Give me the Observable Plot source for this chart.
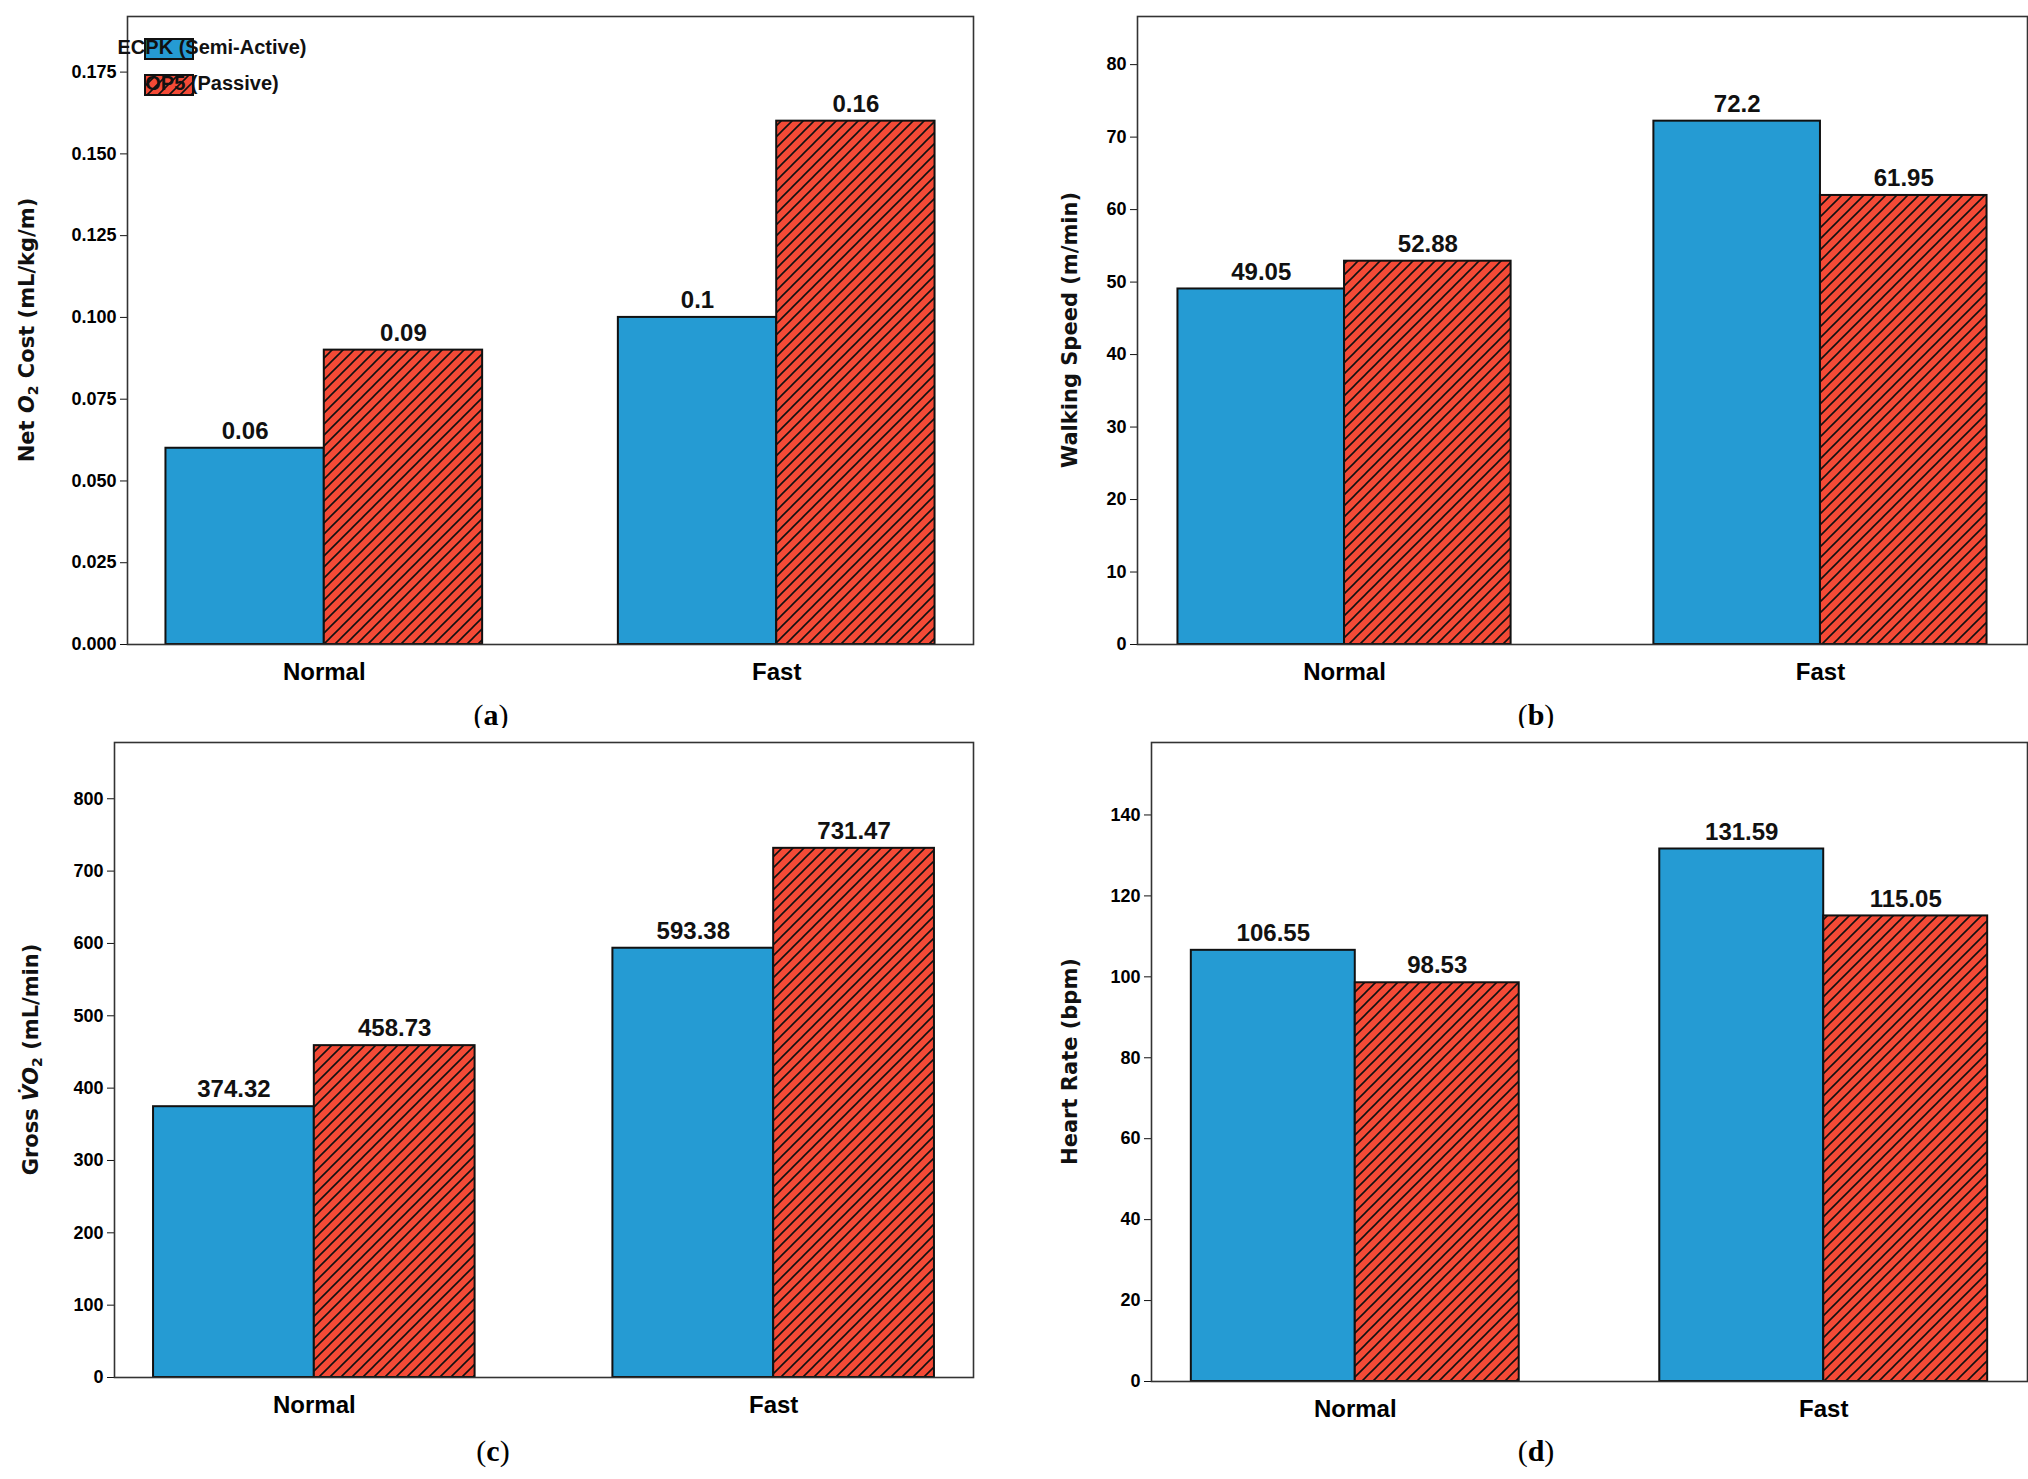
<!DOCTYPE html>
<html><head><meta charset="utf-8">
<script src="https://cdn.jsdelivr.net/npm/d3@7"></script>
<script src="https://cdn.jsdelivr.net/npm/@observablehq/plot@0.6"></script>
<style>
body{margin:0;background:#fff;}
#wrap{position:relative;width:2028px;height:1479px;}
.p{position:absolute;}
.cap{position:absolute;font-family:"Liberation Serif",serif;font-size:30px;transform:translate(-50%,-50%);}
.cap b{font-weight:bold;}
</style></head><body>
<svg width="0" height="0" style="position:absolute"><defs>
<pattern id="hatch" patternUnits="userSpaceOnUse" width="11" height="11">
<rect width="11" height="11" fill="#f44a36"/>
<path d="M-1,12 L12,-1 M-3,3 L3,-3 M8,14 L14,8" stroke="#111" stroke-width="1.6"/>
</pattern></defs></svg>
<div id="wrap"></div>
<script>
const categories = ["Normal", "Fast"];
const series = ["ECPK (Semi-Active)", "OP5 (Passive)"];
const netO2_ecpk = [0.06, 0.10];
const netO2_op5 = [0.09, 0.16];
const netO2_labels = [["0.06","0.1"],["0.09","0.16"]];
const speed_ecpk = [49.05, 72.2];
const speed_op5 = [52.88, 61.95];
const speed_labels = [["49.05","72.2"],["52.88","61.95"]];
const vo2_ecpk = [374.32, 593.38];
const vo2_op5 = [458.73, 731.47];
const vo2_labels = [["374.32","593.38"],["458.73","731.47"]];
const hr_ecpk = [106.55, 131.59];
const hr_op5 = [98.53, 115.05];
const hr_labels = [["106.55","131.59"],["98.53","115.05"]];
const ticksA = d3.range(0, 0.176, 0.025);
const ticksB = d3.range(0, 81, 10);
const ticksC = d3.range(0, 801, 100);
const ticksD = d3.range(0, 141, 20);

const wrap = document.getElementById("wrap");
const W = 0.35;

function panel({left, top, mL, mR, mT, plotH, ecpk, op5, labels, ticks, fmt, ylabel, labelX, legend, cap, capX, capY}) {
  const rows = [];
  categories.forEach((c, i) => {
    rows.push({s: 0, x1: i - W, x2: i, v: ecpk[i], t: labels[0][i]});
    rows.push({s: 1, x1: i, x2: i + W, v: op5[i], t: labels[1][i]});
  });
  const ymax = Math.max(...ecpk, ...op5) * 1.2;
  const height = mT + plotH + 60;
  const chart = Plot.plot({
    width: 1014, height, marginLeft: mL, marginRight: mR, marginTop: mT, marginBottom: 60,
    x: {domain: [-0.435, 1.435]},
    y: {domain: [0, ymax]},
    style: {fontFamily: "Liberation Sans, Arial, sans-serif", fontWeight: "bold", color: "#000", background: "white"},
    marks: [
      Plot.rect(rows, {x1: "x1", x2: "x2", y1: 0, y2: "v", fill: d => d.s ? "url(#hatch)" : "#259bd3", stroke: "#111", strokeWidth: 2}),
      Plot.text(rows, {x: d => (d.x1 + d.x2) / 2, y: "v", text: "t", dy: -17, fontSize: 24, fontWeight: "bold", fill: "#111"}),
      Plot.axisY({ticks, tickFormat: fmt, tickSize: 7, fontSize: 18, fontWeight: "bold", label: null, tickPadding: 4, stroke: "#111"}),
      Plot.axisX({ticks: [0, 1], tickFormat: i => categories[i], tickSize: 0, tickPadding: 18, fontSize: 24, fontWeight: "bold", label: null}),
      Plot.frame({stroke: "#333", strokeWidth: 1.6})
    ]
  });
  chart.classList.add("p");
  chart.style.left = left + "px";
  chart.style.top = top + "px";
  wrap.appendChild(chart);
  const svg = d3.select(chart);
  const t = svg.append("text")
    .attr("transform", `translate(${labelX},${mT + plotH / 2}) rotate(-90)`)
    .attr("text-anchor", "middle").attr("dominant-baseline", "middle")
    .attr("font-family", "DejaVu Sans, sans-serif").attr("font-weight", "bold").attr("font-size", 21).attr("fill", "#111");
  ylabel(t);
  if (legend) {
    series.forEach((s, i) => {
      const y = 39 + i * 36;
      svg.append("rect").attr("x", 145).attr("y", y).attr("width", 48).attr("height", 20)
        .attr("fill", i ? "url(#hatch)" : "#259bd3").attr("stroke", "#111").attr("stroke-width", 2);
      svg.append("text").attr("x", 212).attr("y", y + 10).attr("dominant-baseline", "middle")
        .attr("font-family", "Liberation Sans, Arial, sans-serif").attr("font-weight", "bold")
        .attr("font-size", 20).attr("fill", "#111").text(s);
    });
  }
  const c = document.createElement("div");
  c.className = "cap";
  c.style.left = capX + "px"; c.style.top = capY + "px";
  c.innerHTML = "(<b>" + cap + "</b>)";
  wrap.appendChild(c);
}

function sub(t, pre, it, subs, post) {
  t.append("tspan").text(pre);
  t.append("tspan").attr("font-style", "italic").text(it);
  t.append("tspan").attr("font-size", 14).attr("dy", 6).text(subs);
  t.append("tspan").attr("dy", -6).text(post);
}

panel({left: 0, top: 0, mL: 127, mR: 41, mT: 16, plotH: 628, ecpk: netO2_ecpk, op5: netO2_op5, labels: netO2_labels,
  ticks: ticksA, fmt: d3.format(".3f"), ylabel: t => sub(t, "Net ", "O", "2", " Cost (mL/kg/m)"), labelX: 28, legend: true,
  cap: "a", capX: 491, capY: 715});
panel({left: 1014, top: 0, mL: 123, mR: 1, mT: 16, plotH: 628, ecpk: speed_ecpk, op5: speed_op5, labels: speed_labels,
  ticks: ticksB, fmt: d3.format("d"), ylabel: t => t.text("Walking Speed (m/min)"), labelX: 57,
  cap: "b", capX: 1536, capY: 715});
panel({left: 0, top: 728, mL: 114, mR: 41, mT: 14, plotH: 635, ecpk: vo2_ecpk, op5: vo2_op5, labels: vo2_labels,
  ticks: ticksC, fmt: d3.format("d"), ylabel: t => sub(t, "Gross ", "V\u0307O", "2", " (mL/min)"), labelX: 32,
  cap: "c", capX: 493, capY: 1451});
panel({left: 1014, top: 728, mL: 137, mR: 1, mT: 14, plotH: 639, ecpk: hr_ecpk, op5: hr_op5, labels: hr_labels,
  ticks: ticksD, fmt: d3.format("d"), ylabel: t => t.text("Heart Rate (bpm)"), labelX: 57,
  cap: "d", capX: 1536, capY: 1451});
</script></body></html>
